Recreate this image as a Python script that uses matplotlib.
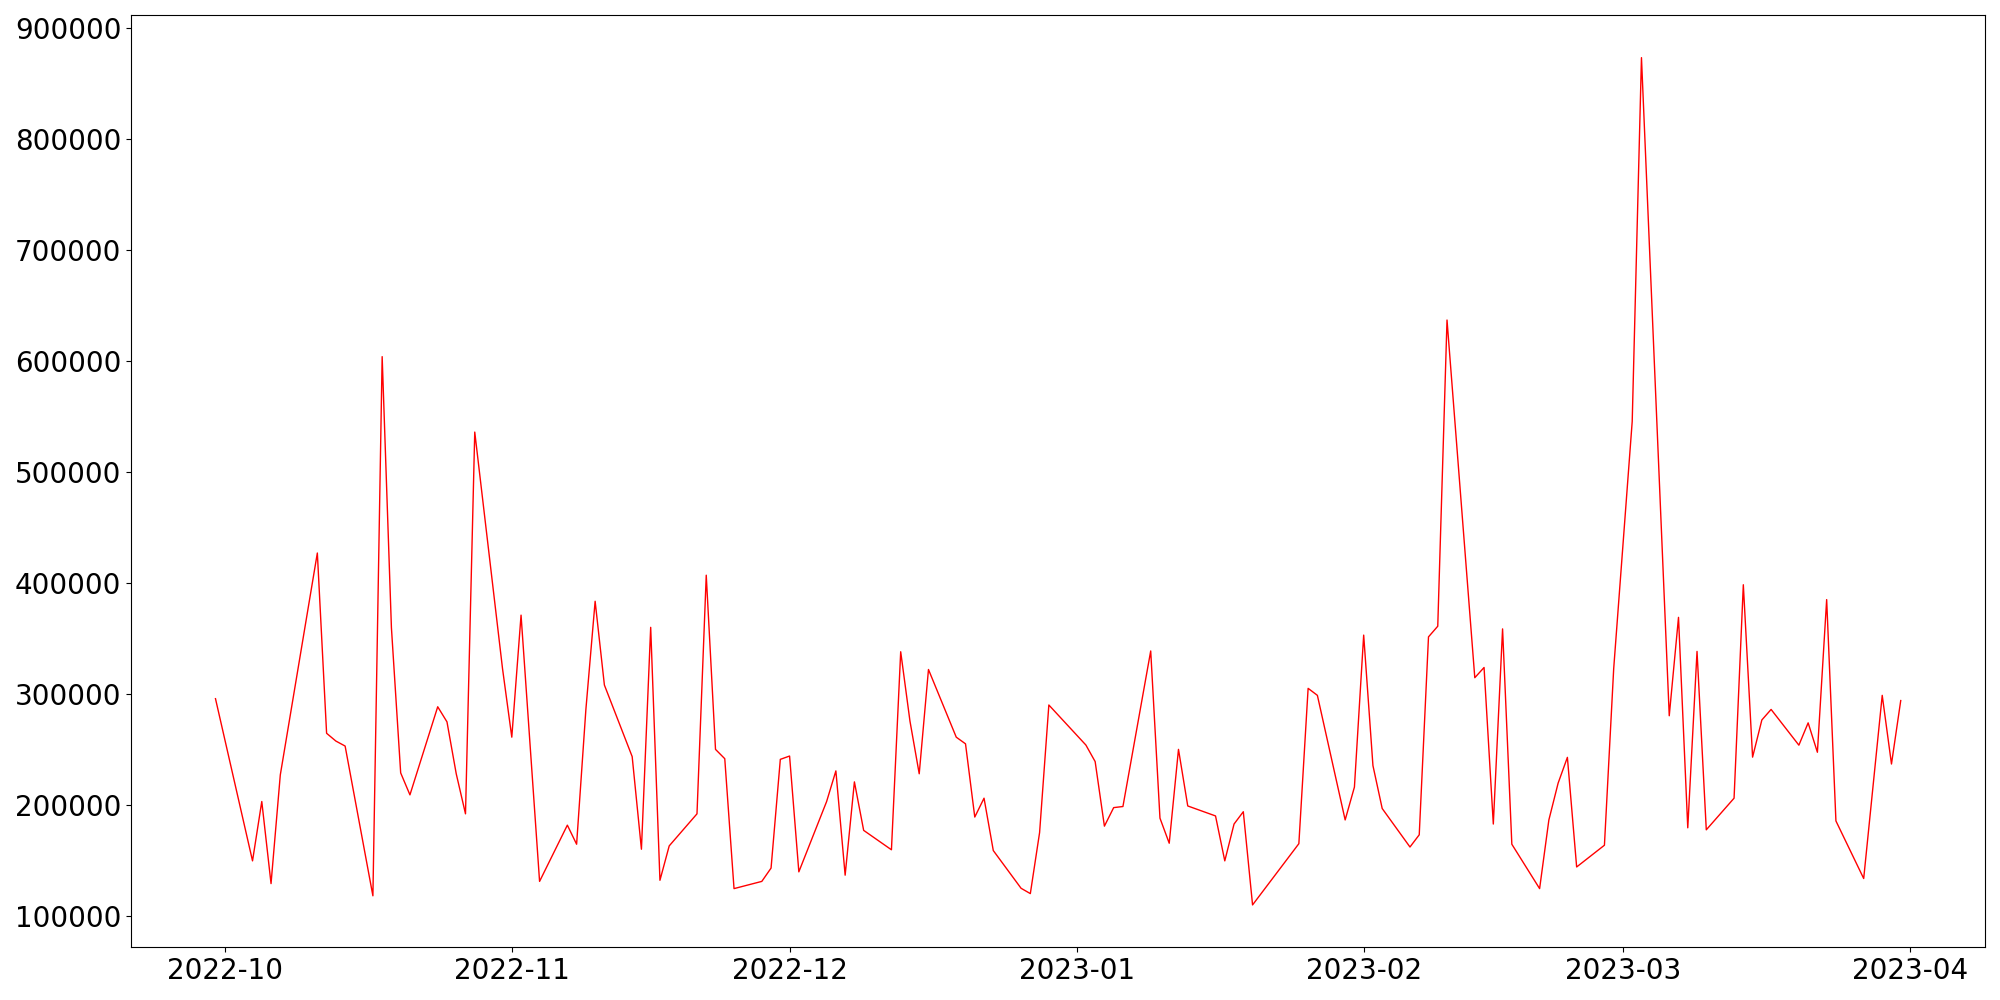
import numpy as np
import pandas as pd
import matplotlib
matplotlib.use('Agg')
import matplotlib.pyplot as plt


# trading days and values
dates = [
    '2022-09-30', '2022-10-04', '2022-10-05', '2022-10-06', '2022-10-07',
    '2022-10-11', '2022-10-12', '2022-10-13', '2022-10-14', '2022-10-17',
    '2022-10-18', '2022-10-19', '2022-10-20', '2022-10-21', '2022-10-24',
    '2022-10-25', '2022-10-26', '2022-10-27', '2022-10-28', '2022-10-31',
    '2022-11-01', '2022-11-02', '2022-11-04', '2022-11-07', '2022-11-08',
    '2022-11-09', '2022-11-10', '2022-11-11', '2022-11-14', '2022-11-15',
    '2022-11-16', '2022-11-17', '2022-11-18', '2022-11-21', '2022-11-22',
    '2022-11-23', '2022-11-24', '2022-11-25', '2022-11-28', '2022-11-29',
    '2022-11-30', '2022-12-01', '2022-12-02', '2022-12-05', '2022-12-06',
    '2022-12-07', '2022-12-08', '2022-12-09', '2022-12-12', '2022-12-13',
    '2022-12-14', '2022-12-15', '2022-12-16', '2022-12-19', '2022-12-20',
    '2022-12-21', '2022-12-22', '2022-12-23', '2022-12-26', '2022-12-27',
    '2022-12-28', '2022-12-29', '2023-01-02', '2023-01-03', '2023-01-04',
    '2023-01-05', '2023-01-06', '2023-01-09', '2023-01-10', '2023-01-11',
    '2023-01-12', '2023-01-13', '2023-01-16', '2023-01-17', '2023-01-18',
    '2023-01-19', '2023-01-20', '2023-01-25', '2023-01-26', '2023-01-27',
    '2023-01-30', '2023-01-31', '2023-02-01', '2023-02-02', '2023-02-03',
    '2023-02-06', '2023-02-07', '2023-02-08', '2023-02-09', '2023-02-10',
    '2023-02-13', '2023-02-14', '2023-02-15', '2023-02-16', '2023-02-17',
    '2023-02-20', '2023-02-21', '2023-02-22', '2023-02-23', '2023-02-24',
    '2023-02-27', '2023-02-28', '2023-03-02', '2023-03-03', '2023-03-06',
    '2023-03-07', '2023-03-08', '2023-03-09', '2023-03-10', '2023-03-13',
    '2023-03-14', '2023-03-15', '2023-03-16', '2023-03-17', '2023-03-20',
    '2023-03-21', '2023-03-22', '2023-03-23', '2023-03-24', '2023-03-27',
    '2023-03-29', '2023-03-30', '2023-03-31',
]

volume = [
    295700, 149500, 203000, 129000, 227000,
    427000, 264500, 257500, 253000, 118000,
    604000, 359700, 228800, 209000, 288400,
    274800, 228000, 191900, 536000, 322700,
    261000, 371000, 131000, 181700, 164500,
    285800, 383500, 308000, 243500, 160000,
    360000, 132000, 163000, 191900, 407000,
    250000, 241600, 124500, 131000, 143000,
    241000, 244000, 139600, 203000, 230600,
    136600, 220700, 177000, 159500, 338000,
    275500, 228000, 322000, 261000, 255000,
    189000, 206000, 158800, 124800, 120000,
    175000, 290000, 253900, 239000, 180800,
    197500, 198500, 338700, 188000, 165400,
    250000, 199000, 190000, 149500, 182700,
    193800, 109800, 165000, 305000, 298700,
    186400, 216000, 353000, 235400, 196700,
    162000, 173000, 351400, 361000, 637000,
    314600, 323800, 182700, 358600, 164500,
    124500, 186400, 219600, 242800, 144000,
    163600, 322700, 545600, 873500, 280300,
    369000, 179300, 338300, 177500, 206000,
    398400, 243000, 276500, 286000, 253800,
    273900, 247400, 385000, 185500, 133600,
    298700, 236800, 294000,
]

x = pd.to_datetime(dates)

fig, ax = plt.subplots(figsize=(20, 10), dpi=100)
ax.plot(x, volume, color='red', linewidth=1)
ax.tick_params(labelsize=20)
plt.tight_layout()
plt.savefig('out.png')
